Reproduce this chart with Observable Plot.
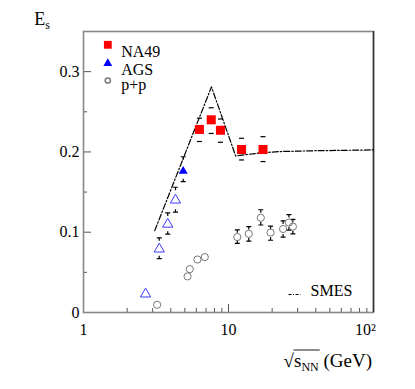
<!DOCTYPE html>
<html><head><meta charset="utf-8">
<script src="https://cdn.jsdelivr.net/npm/d3@7"></script>
<script src="https://cdn.jsdelivr.net/npm/@observablehq/plot@0.6"></script>
<style>body{margin:0;background:#fff}#chart{width:415px;height:389px}svg text{font-family:"Liberation Serif",serif}</style>
</head><body><div id="chart"></div>
<script>
// ---- axes / ticks ----
const xMajorTicks = [1, 10, 100];
const xMinorTicks = [2, 3, 4, 5, 6, 7, 8, 9, 20, 30, 40, 50, 60, 70, 80, 90];
const xTickLabels = ["1", "10", "10²"];
const yMajorTicks = [0, 0.1, 0.2, 0.3];
const yMinorTicks = [0.05, 0.15, 0.25];
const yTickLabels = ["0", "0.1", "0.2", "0.3"];
const legendLabels = ["NA49", "AGS", "p+p"];
const modelLabel = "SMES";

// ---- NA49 ----
const na49X  = [6.3, 7.6, 8.8, 12.3, 17.3];
const na49Y  = [0.228, 0.240, 0.227, 0.203, 0.203];
const na49Hi = [0.242, 0.255, 0.241, 0.217, 0.219];
const na49Lo = [0.213, 0.223, 0.212, 0.190, 0.188];

// ---- AGS (filled) ----
const agsX  = [4.87];
const agsY  = [0.176];
const agsHi = [0.194];
const agsLo = [0.163];

// ---- AGS (open) ----
const agsOpenX  = [2.68, 3.33, 3.81, 4.31];
const agsOpenY  = [0.023, 0.079, 0.110, 0.140];
const agsOpenHi = [null, 0.093, 0.124, 0.156];
const agsOpenLo = [null, 0.067, 0.0975, 0.125];

// ---- p+p ----
const ppX  = [3.22, 5.22, 5.41, 6.11, 6.86, 11.5, 13.8, 16.7, 19.5, 23.8, 26.1, 27.8];
const ppY  = [0.0096, 0.045, 0.054, 0.066, 0.069, 0.094, 0.098, 0.118, 0.0996, 0.104, 0.112, 0.107];
const ppHi = [null, null, null, null, null, 0.103, 0.107, 0.128, 0.1075, 0.114, 0.122, 0.116];
const ppLo = [null, null, null, null, null, 0.086, 0.089, 0.109, 0.090, 0.094, 0.1025, 0.098];

// ---- SMES model ----
const smesX = [3.1, 7.63, 11.2, 17, 23, 40, 100];
const smesY = [0.102, 0.281, 0.195, 0.199, 0.2005, 0.2015, 0.2025];

const pts = (xs, ys, hi, lo) => xs.map((x, i) => ({x, y: ys[i], hi: hi ? hi[i] : null, lo: lo ? lo[i] : null}));
const na49 = pts(na49X, na49Y, na49Hi, na49Lo);
const ags = pts(agsX, agsY, agsHi, agsLo);
const agsOpen = pts(agsOpenX, agsOpenY, agsOpenHi, agsOpenLo);
const pp = pts(ppX, ppY, ppHi, ppLo);
const smes = smesX.map((x, i) => ({x, y: smesY[i]}));
const withErr = d => d.filter(p => p.hi != null);

// custom error-bar symbols
const capTop = {draw(c) { c.moveTo(-2.5, 0); c.lineTo(2.5, 0); c.moveTo(0, 0); c.lineTo(0, 3); }};
const capBot = {draw(c) { c.moveTo(-2.5, 0); c.lineTo(2.5, 0); c.moveTo(0, 0); c.lineTo(0, -3); }};
const dash   = {draw(c) { c.moveTo(-2.5, 0); c.lineTo(2.5, 0); }};
const sample = {draw(c) { c.moveTo(-6, 0); c.lineTo(6, 0); }};

const font = "Liberation Serif";
const FW = 290, FH = 281;

const errMarks = (data, symTop, symBot) => [
  Plot.dot(withErr(data), {x: "x", y: "hi", symbol: symTop, r: 3, stroke: "black", fill: "none", strokeWidth: 1.2}),
  Plot.dot(withErr(data), {x: "x", y: "lo", symbol: symBot, r: 3, stroke: "black", fill: "none", strokeWidth: 1.2})
];
const T = {fontFamily: font};

const plot = Plot.plot({
  width: 415, height: 389,
  marginLeft: 83, marginRight: 42, marginTop: 31, marginBottom: 77,
  style: {fontFamily: font, fontSize: "15px", background: "#fff", color: "black"},
  x: {type: "log", domain: [1, 100], axis: null},
  y: {domain: [0, 0.35], axis: null},
  marks: [
    // ticks (inward)
    Plot.tickY(yMajorTicks, {y: d => d, insetRight: FW - 8, stroke: "#555"}),
    Plot.tickY(yMinorTicks, {y: d => d, insetRight: FW - 4, stroke: "#555"}),
    Plot.tickX(xMajorTicks, {x: d => d, insetTop: FH - 8, stroke: "#555"}),
    Plot.tickX(xMinorTicks, {x: d => d, insetTop: FH - 4, stroke: "#555"}),
    Plot.frame({stroke: "#888", strokeWidth: 1.6}),
    Plot.ruleX([100], {stroke: "#333", strokeWidth: 1.5}),
    // tick labels
    Plot.text(yMajorTicks, {...T, y: d => d, text: (d, i) => yTickLabels[i], frameAnchor: "left", textAnchor: "end", dx: -4, fontSize: 16}),
    Plot.text(xMajorTicks.slice(0, 2), {...T, x: d => d, text: (d, i) => xTickLabels[i], frameAnchor: "bottom", dy: 22, fontSize: 16}),
    Plot.text(xMajorTicks.slice(2), {...T, x: d => d, text: (d, i) => xTickLabels[i + 2], frameAnchor: "bottom", dy: 22, dx: -8, fontSize: 16}),
    // model
    Plot.line(smes, {x: "x", y: "y", stroke: "black", strokeWidth: 1.2, strokeDasharray: "6,2,1.5,2"}),
    // error bars
    ...errMarks(na49, dash, dash),
    ...errMarks(ags, capTop, capBot),
    ...errMarks(agsOpen, capTop, capBot),
    ...errMarks(pp, capTop, capBot),
    // data points
    Plot.dot(pp, {x: "x", y: "y", symbol: "circle", r: 3.6, stroke: "#777", fill: "none", strokeWidth: 1}),
    Plot.dot(agsOpen, {x: "x", y: "y", symbol: "triangle", r: 3.8, stroke: "#3b3bff", fill: "none", strokeWidth: 1}),
    Plot.dot(ags, {x: "x", y: "y", symbol: "triangle", r: 3.4, fill: "#0000ff", stroke: "none"}),
    Plot.dot(na49, {x: "x", y: "y", symbol: "square", r: 5.1, fill: "#ff0000", stroke: "none"}),
    // legend (top-left)
    Plot.dot([legendLabels[0]], {frameAnchor: "top-left", dx: 24.3, dy: 13.3, symbol: "square", r: 4.4, fill: "#ff0000"}),
    Plot.dot([legendLabels[1]], {frameAnchor: "top-left", dx: 24.3, dy: 32, symbol: "triangle", r: 3.3, fill: "#0000ff"}),
    Plot.dot([legendLabels[2]], {frameAnchor: "top-left", dx: 24.3, dy: 49, symbol: "circle", r: 2.6, stroke: "#777", fill: "none"}),
    Plot.text([legendLabels[0]], {...T, frameAnchor: "top-left", dx: 37.7, dy: 14.5, textAnchor: "start", text: d => d, fontSize: 16}),
    Plot.text([legendLabels[1]], {...T, frameAnchor: "top-left", dx: 37.7, dy: 32, textAnchor: "start", text: d => d, fontSize: 16}),
    Plot.text([legendLabels[2]], {...T, frameAnchor: "top-left", dx: 37.7, dy: 47.5, textAnchor: "start", text: d => d, fontSize: 16}),
    // model legend (bottom-right)
    Plot.dot([modelLabel], {frameAnchor: "bottom-right", dx: -79, dy: -18, symbol: sample, r: 3, stroke: "black", fill: "none", strokeWidth: 1, strokeDasharray: "3,1.5,1,1.5"}),
    Plot.text([modelLabel], {...T, frameAnchor: "bottom-right", dx: -63, dy: -17, textAnchor: "start", text: d => d, fontSize: 16})
  ]
});
document.getElementById("chart").appendChild(plot);

// axis titles with sub/superscripts
const svg = d3.select(plot);
const yt = svg.append("text").attr("x", 42).attr("y", 25)
  .style("font-family", font).style("font-size", "18px").attr("fill", "black");
yt.append("tspan").text("E");
yt.append("tspan").attr("font-size", "12px").attr("dy", 4).text("s");

const xt = svg.append("text").attr("x", 372).attr("y", 367).attr("text-anchor", "end")
  .style("font-family", font).style("font-size", "19px").attr("fill", "black");
xt.append("tspan").text("√");
xt.append("tspan").text("s");
xt.append("tspan").attr("font-size", "12px").attr("dy", 4).text("NN");
xt.append("tspan").attr("dy", -4).text(" (GeV)");
const n = xt.node();
const e0 = n.getExtentOfChar(0), e3 = n.getExtentOfChar(3);
svg.append("line")
  .attr("x1", e0.x + e0.width - 0.5).attr("x2", e3.x + e3.width + 1)
  .attr("y1", 350).attr("y2", 350).attr("stroke", "black").attr("stroke-width", 0.9);
</script>
</body></html>
